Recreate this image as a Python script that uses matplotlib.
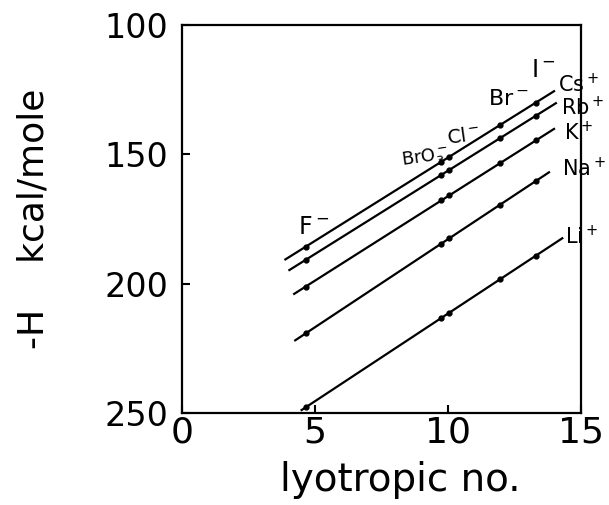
import numpy as np
import matplotlib.pyplot as plt

plt.rcParams['font.family'] = 'DejaVu Sans'
plt.rcParams['mathtext.fontset'] = 'dejavusans'

# lyotropic numbers of the anions (x positions of the points)
anions = ['F', 'BrO3', 'Cl', 'Br', 'I']
lyo_no = [4.65, 9.75, 10.05, 11.95, 13.3]

# -H (kcal/mole) for each cation at each anion
cations = ['Cs', 'Rb', 'K', 'Na', 'Li']
dh_cs = [185.7, 152.9, 150.9, 138.7, 130.0]
dh_rb = [190.8, 157.9, 156.0, 143.8, 135.1]
dh_k = [201.1, 167.8, 165.9, 153.5, 144.6]
dh_na = [219.2, 184.5, 182.5, 169.5, 160.3]
dh_li = [247.8, 213.3, 211.2, 198.3, 189.2]

# x range over which each fitted line is drawn
line_start = [3.85, 4.0, 4.18, 4.22, 4.46]
line_end = [14.02, 14.09, 14.02, 13.83, 14.33]

cation_labels = [r'Cs$^+$', r'Rb$^+$', r'K$^+$', r'Na$^+$', r'Li$^+$']
anion_labels = [r'F$^-$', r'BrO$_3^-$', r'Cl$^-$', r'Br$^-$', r'I$^-$']

fig = plt.figure(figsize=(6.09, 5.05), dpi=100)
ax = fig.add_axes([0.2989, 0.1822, 0.6552, 0.7683])

all_dh = [dh_cs, dh_rb, dh_k, dh_na, dh_li]
for dh, x0, x1 in zip(all_dh, line_start, line_end):
    k, b = np.polyfit(lyo_no, dh, 1)
    xs = np.array([x0, x1])
    ax.plot(xs, k * xs + b, color='black', lw=1.6, solid_capstyle='butt')
    ax.plot(lyo_no, dh, 'o', color='black', ms=3.5)

# cation labels at the right end of the lines
cat_pos = [(14.15, 123.0), (14.25, 131.8), (14.35, 141.7), (14.3, 155.3), (14.4, 181.8)]
for lab, (x, y) in zip(cation_labels, cat_pos):
    ax.text(x, y, lab, fontsize=15, ha='left', va='center')

# anion labels above the Cs line
an_pos = [(4.36, 178.1, 0), (8.2, 151.4, 8), (9.9, 143.0, 8), (11.5, 128.6, 0), (13.1, 117.4, 0)]
an_size = [17, 13, 14, 16, 17]
for lab, (x, y, rot), fs in zip(anion_labels, an_pos, an_size):
    ax.text(x, y, lab, fontsize=fs, ha='left', va='center', rotation=rot)

ax.set_xlim(0, 15)
ax.set_ylim(250, 100)
ax.set_xticks([0, 5, 10, 15])
ax.set_yticks([100, 150, 200, 250])
ax.tick_params(axis='x', direction='in', length=6, width=1.5, labelsize=26, pad=2)
ax.tick_params(axis='y', direction='in', length=6, width=1.5, labelsize=24, pad=10)
for s in ax.spines.values():
    s.set_linewidth(1.6)

ax.set_xlabel('lyotropic no.', fontsize=28)
ax.xaxis.set_label_coords(0.546, -0.125)
ax.set_ylabel('-H    kcal/mole', fontsize=26)
ax.yaxis.set_label_coords(-0.33, 0.5)

fig.savefig('out.png', dpi=100)
